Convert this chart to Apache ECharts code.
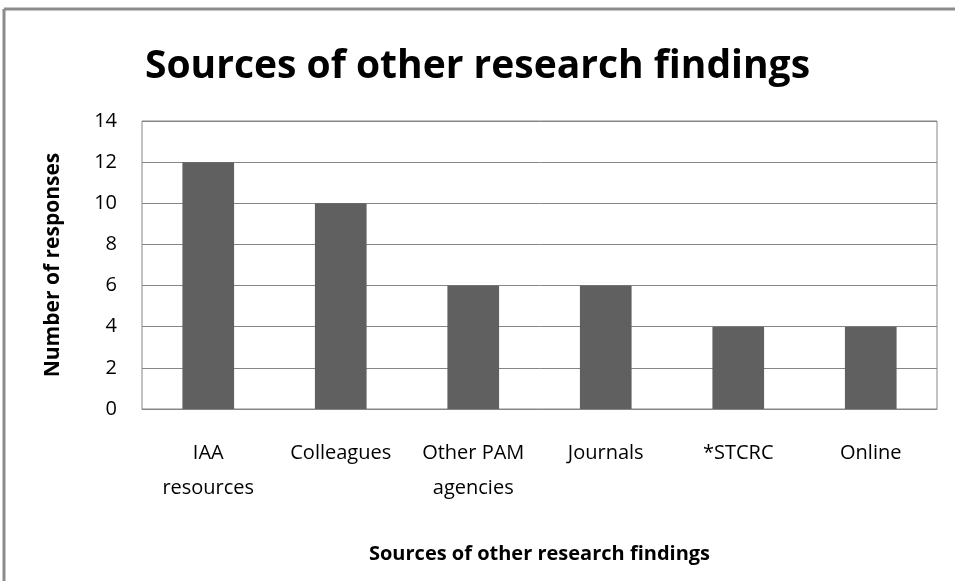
<!DOCTYPE html>
<html>
<head>
<meta charset="utf-8">
<script src="https://cdn.jsdelivr.net/npm/echarts@6/dist/echarts.min.js"></script>
<style>
  html, body { margin: 0; padding: 0; background: #fff; }
  #main { width: 955px; height: 581px; }
</style>
</head>
<body>
<div id="main"></div>
<script>
var categories = ['IAA\nresources', 'Colleagues', 'Other PAM\nagencies', 'Journals', '*STCRC', 'Online'];
var responses = [12, 10, 6, 6, 4, 4];
var yTicks = [0, 2, 4, 6, 8, 10, 12, 14];

var chartDom = document.getElementById('main');
var myChart = echarts.init(chartDom);
var fontFam = 'Open Sans';

var option = {
    backgroundColor: '#fff',
    animation: false,
    title: {
        text: 'Sources of other research findings',
        left: 'center',
        top: 42,
        textStyle: {
            fontFamily: fontFam,
            fontWeight: 'bold',
            fontSize: 39,
            color: '#000'
        }
    },
    graphic: [
        { type: 'line', shape: { x1: 4, y1: 9, x2: 955, y2: 9 }, style: { stroke: '#8c8c8c', lineWidth: 3 } },
        { type: 'line', shape: { x1: 4, y1: 9, x2: 4, y2: 581 }, style: { stroke: '#8c8c8c', lineWidth: 3 } }
    ],
    grid: {
        left: 142,
        right: 18,
        top: 121,
        bottom: 172,
        show: true,
        borderColor: '#868686',
        borderWidth: 1
    },
    xAxis: {
        type: 'category',
        data: categories,
        name: 'Sources of other research findings',
        nameLocation: 'middle',
        nameGap: 135,
        nameTextStyle: {
            fontFamily: fontFam,
            fontWeight: 'bold',
            fontSize: 20,
            color: '#000'
        },
        axisLine: { lineStyle: { color: '#868686' } },
        axisTick: { show: false },
        axisLabel: {
            interval: 0,
            margin: 27,
            fontFamily: fontFam,
            fontSize: 20,
            lineHeight: 35,
            color: '#000'
        }
    },
    yAxis: {
        type: 'value',
        min: yTicks[0],
        max: yTicks[yTicks.length - 1],
        interval: 2,
        name: 'Number of responses',
        nameLocation: 'middle',
        nameGap: 78,
        nameTextStyle: {
            fontFamily: fontFam,
            fontWeight: 'bold',
            fontSize: 21,
            color: '#000'
        },
        axisLine: { show: false },
        axisTick: { show: false },
        axisLabel: {
            margin: 25,
            fontFamily: fontFam,
            fontSize: 20,
            color: '#000'
        },
        splitLine: { lineStyle: { color: '#868686' } }
    },
    series: [{
        type: 'bar',
        data: responses,
        barWidth: '39%',
        itemStyle: { color: '#606060' }
    }]
};

myChart.setOption(option);
window.addEventListener('resize', function () {
    myChart.resize();
});
</script>
</body>
</html>
